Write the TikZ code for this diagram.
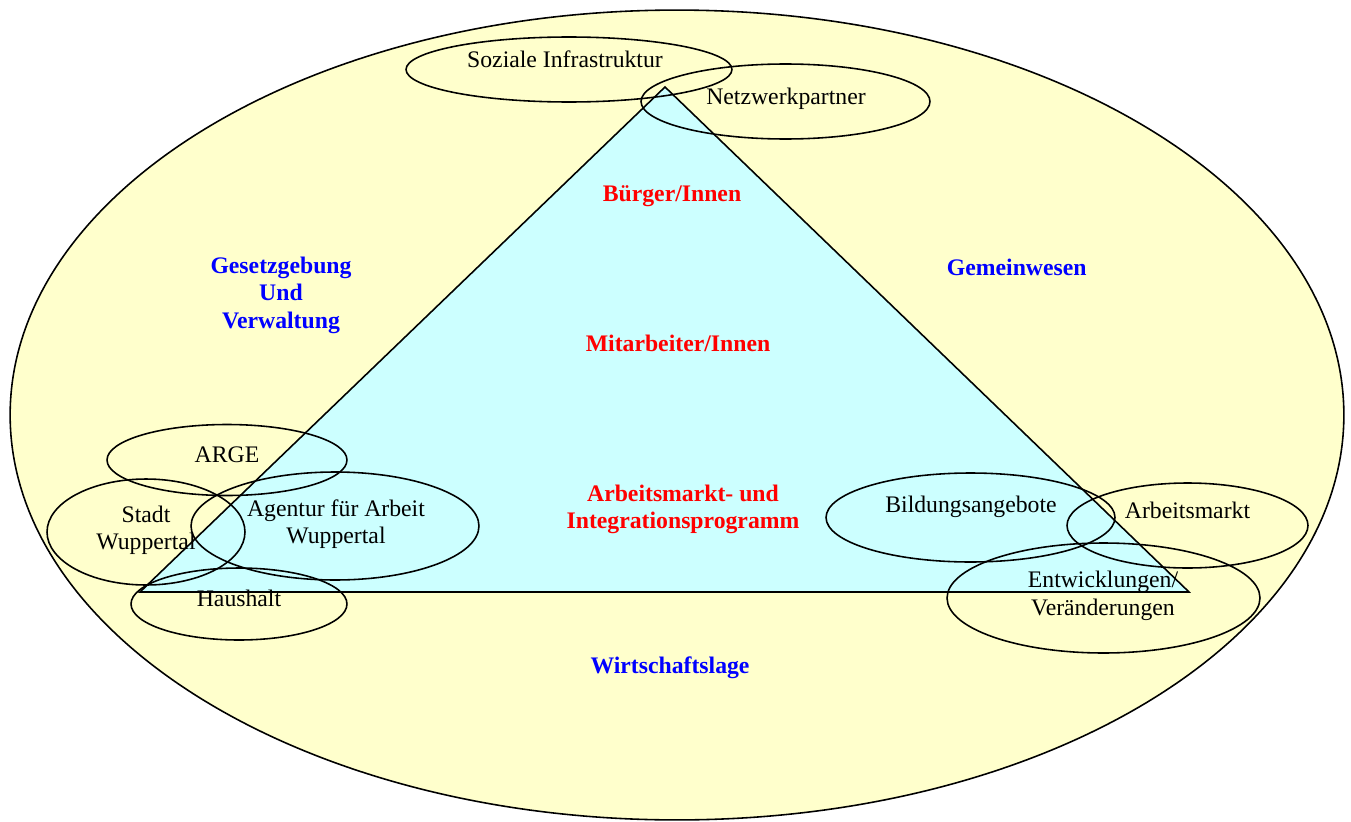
\documentclass[tikz,border=0pt]{standalone}
\usepackage{fontspec}
\setmainfont{Liberation Serif}
\definecolor{bgyellow}{HTML}{FFFFCC}
\definecolor{tricyan}{HTML}{CCFFFF}
\begin{document}
\begin{tikzpicture}[x=0.02cm,y=-0.02cm, line width=0.9pt,
  lbl/.style={font=\fontsize{13.5}{15.5}\selectfont, inner sep=0pt, anchor=base, align=center},
  bluelbl/.style={lbl, font=\fontsize{13.5}{15.5}\selectfont\bfseries, text=blue},
  redlbl/.style={lbl, font=\fontsize{13.5}{15.5}\selectfont\bfseries, text=red},
  ring/.style={draw=black, line width=0.9pt}]
\useasboundingbox (0,0) rectangle (1351,821);
\fill[white] (0,0) rectangle (1351,821);
% outer ellipse and triangle
\draw[fill=bgyellow] (677,415) ellipse [x radius=13.34cm, y radius=8.1cm];
\draw[fill=tricyan, line join=miter] (665,87) -- (1189,592) -- (140,592) -- cycle;
% small ellipses
\draw[ring] (569,69.5) ellipse [x radius=3.26cm, y radius=0.65cm];
\draw[ring] (785.5,101.5) ellipse [x radius=2.89cm, y radius=0.75cm];
\draw[ring] (227,460) ellipse [x radius=2.4cm, y radius=0.71cm];
\draw[ring] (146,532) ellipse [x radius=1.98cm, y radius=1.06cm];
\draw[ring] (335,526) ellipse [x radius=2.88cm, y radius=1.08cm];
\draw[ring] (239,604) ellipse [x radius=2.16cm, y radius=0.72cm];
\draw[ring] (970.5,517.5) ellipse [x radius=2.89cm, y radius=0.89cm];
\draw[ring] (1187.5,525.5) ellipse [x radius=2.41cm, y radius=0.85cm];
\draw[ring] (1103.5,598) ellipse [x radius=3.13cm, y radius=1.1cm];
% labels (multi-line nodes: base = last line's baseline)
\node[lbl] (soz) at (565,68) {Soziale Infrastruktur};
\node[lbl] (netz) at (786,105) {Netzwerkpartner};
\node[lbl] (arge) at (227,462.7) {ARGE};
\node[lbl] (stadt) at (146,549.3) {Stadt\\Wuppertal};
\node[lbl] (agentur) at (336,543.3) {Agentur für Arbeit\\Wuppertal};
\node[lbl] (haus) at (239,606) {Haushalt};
\node[lbl] (bildung) at (971,512.7) {Bildungsangebote};
\node[lbl] (amarkt) at (1187.5,518.3) {Arbeitsmarkt};
\node[lbl] (entw) at (1103,615) {Entwicklungen/\\Veränderungen};
\node[redlbl] (buerger) at (672,201.7) {Bürger/Innen};
\node[redlbl] (mitarb) at (678,351.7) {Mitarbeiter/Innen};
\node[redlbl] (programm) at (683,528.3) {Arbeitsmarkt- und\\Integrationsprogramm};
\node[bluelbl] (gesetz) at (281,328) {Gesetzgebung\\Und\\Verwaltung};
\node[bluelbl] (gemein) at (1016.7,275) {Gemeinwesen};
\node[bluelbl] (wirt) at (670,673.3) {Wirtschaftslage};
\end{tikzpicture}
\end{document}
